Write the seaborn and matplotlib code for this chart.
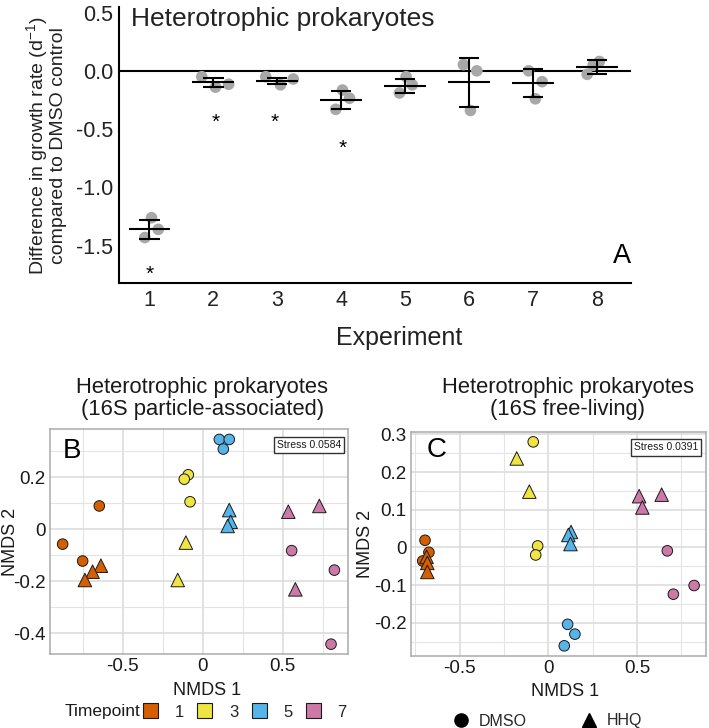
import numpy as np
import pandas as pd
import matplotlib
matplotlib.use('Agg')
import matplotlib.pyplot as plt
import seaborn as sns
from matplotlib.patches import Patch
from matplotlib.lines import Line2D

# ---------------- Panel A data ----------------
experiments = [1, 2, 3, 4, 5, 6, 7, 8]
rep_x = [[1.035, 1.14, 0.93], [1.82, 2.035, 2.24], [2.82, 3.05, 3.25],
         [4.02, 4.13, 3.915], [5.014, 5.11, 4.91], [5.91, 6.12, 6.02],
         [6.93, 7.14, 7.035], [7.845, 8.035, 7.94]]
rep_y = [[-1.26, -1.36, -1.43], [-0.05, -0.14, -0.115], [-0.05, -0.12, -0.07],
         [-0.165, -0.235, -0.33], [-0.05, -0.12, -0.19], [0.053, 0.0, -0.34],
         [0.0, -0.093, -0.24], [-0.03, 0.08, 0.048]]
means = [-1.36, -0.10, -0.088, -0.247, -0.128, -0.098, -0.108, 0.033]
sds = [0.08, 0.037, 0.028, 0.077, 0.06, 0.208, 0.12, 0.062]
sig_x = [1.0, 2.035, 2.96, 4.02]
sig_y = [-1.69, -0.39, -0.39, -0.61]
a_yticks = [0.5, 0.0, -0.5, -1.0, -1.5]
a_yticklabels = ['0.5', '0.0', '-0.5', '-1.0', '-1.5']

# ---------------- Panel B data (16S particle-associated) ----------------
b_nmds1 = [-0.646, -0.875, -0.75, -0.636, -0.688, -0.736,
           -0.09, -0.115, -0.079, -0.105, -0.156,
           0.104, 0.166, 0.129, 0.166, 0.175, 0.156,
           0.535, 0.729, 0.556, 0.823, 0.579, 0.802]
b_nmds2 = [0.09, -0.057, -0.122, -0.14, -0.163, -0.195,
           0.21, 0.193, 0.106, -0.051, -0.195,
           0.346, 0.346, 0.309, 0.074, 0.029, 0.013,
           0.068, 0.09, -0.082, -0.157, -0.231, -0.442]
b_time = ['1'] * 6 + ['3'] * 5 + ['5'] * 6 + ['7'] * 6
b_treat = ['DMSO', 'DMSO', 'DMSO', 'HHQ', 'HHQ', 'HHQ',
           'DMSO', 'DMSO', 'DMSO', 'HHQ', 'HHQ',
           'DMSO', 'DMSO', 'DMSO', 'HHQ', 'HHQ', 'HHQ',
           'HHQ', 'HHQ', 'DMSO', 'DMSO', 'HHQ', 'DMSO']

# ---------------- Panel C data (16S free-living) ----------------
c_nmds1 = [-0.695, -0.673, -0.708, -0.686, -0.682, -0.682,
           -0.085, -0.178, -0.107, -0.06, -0.071,
           0.128, 0.113, 0.125, 0.109, 0.15, 0.09,
           0.512, 0.639, 0.53, 0.671, 0.822, 0.705]
c_nmds2 = [0.019, -0.013, -0.036, -0.025, -0.041, -0.065,
           0.28, 0.236, 0.148, 0.004, -0.02,
           0.041, 0.033, 0.009, -0.204, -0.23, -0.261,
           0.136, 0.14, 0.106, -0.009, -0.101, -0.124]
c_time = ['1'] * 6 + ['3'] * 5 + ['5'] * 6 + ['7'] * 6
c_treat = ['DMSO', 'DMSO', 'DMSO', 'HHQ', 'HHQ', 'HHQ',
           'DMSO', 'HHQ', 'HHQ', 'DMSO', 'DMSO',
           'HHQ', 'HHQ', 'HHQ', 'DMSO', 'DMSO', 'DMSO',
           'HHQ', 'HHQ', 'HHQ', 'DMSO', 'DMSO', 'DMSO']

timepoints = ['1', '3', '5', '7']
tp_colors = ['#D55E00', '#F0E442', '#56B4E9', '#CC79A7']
stress_b = 'Stress 0.0584'
stress_c = 'Stress 0.0391'

# ---------------- figure ----------------
sns.set_theme(style='white')
plt.rcParams['font.family'] = ['Liberation Sans', 'DejaVu Sans']
plt.rcParams['mathtext.default'] = 'regular'

W, H = 709, 728
fig = plt.figure(figsize=(W / 100, H / 100), dpi=100)


def axrect(l, t, r, b):
    return [l / W, 1 - b / H, (r - l) / W, (b - t) / H]


# ---------- Panel A ----------
axA = fig.add_axes(axrect(119.5, 7.3, 631, 283))
dfA = pd.DataFrame({'x': np.concatenate(rep_x), 'y': np.concatenate(rep_y)})
sns.scatterplot(data=dfA, x='x', y='y', ax=axA, color='#A8A8A8', s=70,
                edgecolor='none', zorder=2, legend=False)
ex = np.array(experiments, dtype=float)
mn = np.array(means)
sd = np.array(sds)
axA.axhline(0, color='black', lw=1.5, zorder=1)
axA.hlines(mn, ex - 0.325, ex + 0.325, color='black', lw=1.5, zorder=3)
axA.vlines(ex, mn - sd, mn + sd, color='black', lw=1.5, zorder=3)
axA.hlines(mn + sd, ex - 0.16, ex + 0.16, color='black', lw=1.5, zorder=3)
axA.hlines(mn - sd, ex - 0.16, ex + 0.16, color='black', lw=1.5, zorder=3)
for xs, ys in zip(sig_x, sig_y):
    axA.annotate('*', (xs, ys), xytext=(0, -8.5), textcoords='offset points',
                 ha='center', va='baseline', fontsize=15, color='black')
axA.set_xlim(0.534, 8.53)
axA.set_ylim(-1.82, 0.545)
axA.set_xticks(experiments)
axA.set_xticklabels([str(e) for e in experiments])
axA.set_yticks(a_yticks)
axA.set_yticklabels(a_yticklabels)
sns.despine(ax=axA)
for s in ['left', 'bottom']:
    axA.spines[s].set_color('black')
    axA.spines[s].set_linewidth(1.5)
axA.tick_params(axis='both', labelsize=15.5, colors='#222222', direction='out',
                width=1.5, length=3, pad=2)
axA.tick_params(axis='y', pad=1.5)
axA.set_xlabel('Experiment', fontsize=18, color='#222222')
axA.xaxis.set_label_coords(0.546, -0.155)
axA.set_ylabel('Difference in growth rate (d$^{-1}$)\ncompared to DMSO control',
               fontsize=14, color='#222222', linespacing=1.0)
axA.yaxis.set_label_coords(-0.103, 0.5)
axA.text(0.0225, 0.932, 'Heterotrophic prokaryotes', transform=axA.transAxes,
         ha='left', va='baseline', fontsize=19, color='#222222')
axA.text(1.0, 0.0725, 'A', transform=axA.transAxes, ha='right', va='baseline',
         fontsize=19.5, color='black')

# ---------- Panels B and C ----------
pal = dict(zip(timepoints, tp_colors))


def nmds_panel(ax, x, y, tp, tr, xlim, ylim, yticks, yticklabels, yminor,
               stress, stress_xy, letter, letter_xy):
    df = pd.DataFrame({'NMDS1': x, 'NMDS2': y, 'Timepoint': tp, 'Treatment': tr})
    circ = df[df['Treatment'] == 'DMSO']
    tri = df[df['Treatment'] == 'HHQ']
    sns.scatterplot(data=circ, x='NMDS1', y='NMDS2', hue='Timepoint', palette=pal,
                    marker='o', s=58, edgecolor='#1a1a1a', linewidth=0.7,
                    ax=ax, legend=False, zorder=3)
    sns.scatterplot(data=tri, x='NMDS1', y='NMDS2', hue='Timepoint', palette=pal,
                    marker='^', s=95, edgecolor='#1a1a1a', linewidth=0.7,
                    ax=ax, legend=False, zorder=3)
    ax.set_xlim(*xlim)
    ax.set_ylim(*ylim)
    ax.set_xticks([-0.5, 0, 0.5])
    ax.set_xticklabels(['-0.5', '0', '0.5'])
    ax.set_xticks([-0.75, -0.25, 0.25, 0.75], minor=True)
    ax.set_yticks(yticks)
    ax.set_yticklabels(yticklabels)
    ax.set_yticks(yminor, minor=True)
    ax.grid(True, which='major', color='#DADADA', lw=1.1, zorder=0)
    ax.grid(True, which='minor', color='#E4E4E4', lw=0.8, zorder=0)
    ax.set_axisbelow(True)
    for s in ax.spines.values():
        s.set_visible(True)
        s.set_color('#ABABAB')
        s.set_linewidth(1.1)
    ax.tick_params(axis='both', which='major', labelsize=13.5, colors='#B0B0B0',
                   labelcolor='#1a1a1a', length=2, width=0.8, pad=1)
    ax.tick_params(which='minor', length=0)
    ax.set_xlabel('NMDS 1', fontsize=13, color='#1a1a1a')
    ax.set_ylabel('NMDS 2', fontsize=13, color='#1a1a1a')
    ax.text(stress_xy[0], stress_xy[1], stress, transform=ax.transAxes,
            ha='center', va='center', fontsize=7.5, color='#1a1a1a', zorder=5,
            bbox=dict(boxstyle='square,pad=0.3', fc='white', ec='#333333', lw=1.0))
    ax.text(letter_xy[0], letter_xy[1], letter, transform=ax.transAxes,
            ha='left', va='baseline', fontsize=20, color='black', zorder=5)


axB = fig.add_axes(axrect(50, 429.3, 348, 654.3))
nmds_panel(axB, b_nmds1, b_nmds2, b_time, b_treat, (-0.954, 0.908), (-0.481, 0.385),
           [0.2, 0, -0.2, -0.4], ['0.2', '0', '-0.2', '-0.4'], [0.3, 0.1, -0.1, -0.3],
           stress_b, (0.869, 0.931), 'B', (0.044, 0.871))
axB.xaxis.set_label_coords((207 - 50) / 298, -0.125)
axB.yaxis.set_label_coords(-0.105, 0.5)

axC = fig.add_axes(axrect(411, 431.7, 706, 656))
nmds_panel(axC, c_nmds1, c_nmds2, c_time, c_treat, (-0.774, 0.889), (-0.288, 0.307),
           [0.3, 0.2, 0.1, 0, -0.1, -0.2], ['0.3', '0.2', '0.1', '0', '-0.1', '-0.2'],
           [0.25, 0.15, 0.05, -0.05, -0.15, -0.25],
           stress_c, (0.864, 0.93), 'C', (0.054, 0.887))
axC.xaxis.set_label_coords((565 - 411) / 295, -0.12)
axC.yaxis.set_label_coords(-0.125, 0.5)

# titles of B and C
for xc, l1, l2 in [(202.5, 'Heterotrophic prokaryotes', '(16S particle-associated)'),
                   (567.5, 'Heterotrophic prokaryotes', '(16S free-living)')]:
    fig.text(xc / W, 1 - 392.5 / H, l1, ha='center', va='baseline',
             fontsize=15.8, color='#1a1a1a')
    fig.text(xc / W, 1 - 414.5 / H, l2, ha='center', va='baseline',
             fontsize=15.8, color='#1a1a1a')

# legend B: Timepoint fill
fig.text(65 / W, 1 - 711.5 / H, 'Timepoint', ha='left', va='center',
         fontsize=12.5, color='#1a1a1a')
tp_handles = [Patch(facecolor=c, edgecolor='#1a1a1a', lw=0.8) for c in tp_colors]
fig.legend(tp_handles, timepoints, loc='center left',
           bbox_to_anchor=(143 / W, 1 - 711.5 / H), ncol=4, frameon=False,
           fontsize=12, handlelength=0.9, handleheight=1.0, handletextpad=1.0,
           columnspacing=0.8, borderpad=0, borderaxespad=0)

# legend C: shape
shape_handles = [Line2D([], [], marker='o', ls='none', color='black', markersize=9.5),
                 Line2D([], [], marker='^', ls='none', color='black', markersize=10.5)]
fig.legend(shape_handles, ['DMSO', 'HHQ'], loc='center left',
           bbox_to_anchor=(453 / W, 1 - 721 / H), ncol=2, frameon=False,
           fontsize=11.5, handlelength=1.0, handletextpad=0.6,
           columnspacing=3.4, borderpad=0, borderaxespad=0)

fig.savefig('out.png', dpi=100)
